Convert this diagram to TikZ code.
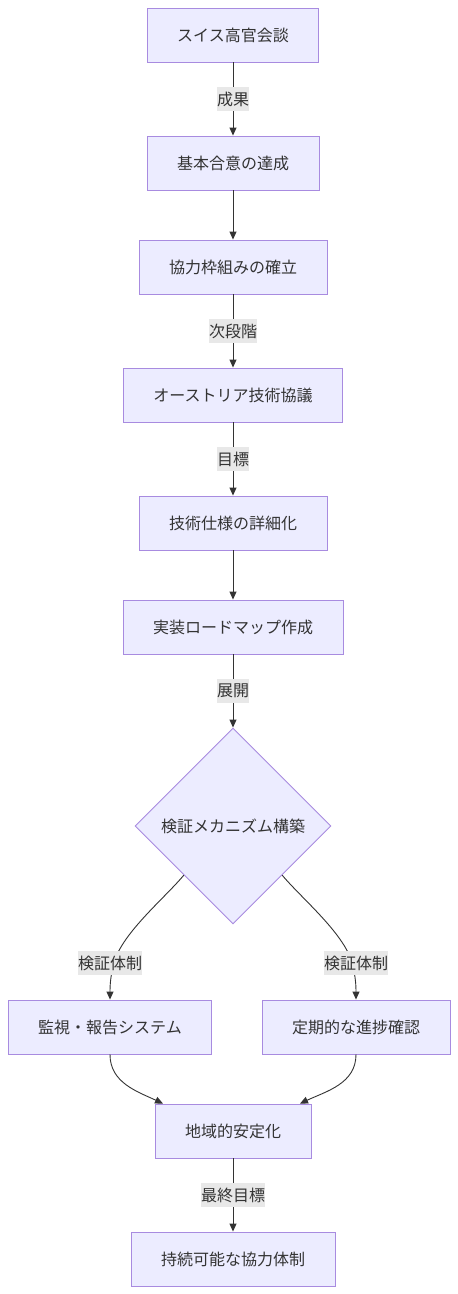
\documentclass[tikz,border=0pt]{standalone}
\usepackage{fontspec}
\setmainfont{Noto Sans CJK JP}
\usetikzlibrary{shapes.geometric,arrows.meta,calc}
\definecolor{boxfill}{HTML}{ECECFF}
\definecolor{boxline}{HTML}{A88BE0}
\definecolor{edgecol}{HTML}{333333}
\definecolor{lblbg}{HTML}{E8E8E8}
\begin{document}
\begin{tikzpicture}[x=1pt,y=-1pt,
  font=\fontsize{16pt}{19pt}\selectfont,
  stepbox/.style={draw=boxline,fill=boxfill,line width=0.9pt,text=edgecol,
    inner xsep=30pt,inner ysep=0pt,minimum height=54pt},
  decision/.style={diamond,draw=boxline,fill=boxfill,line width=0.9pt,text=edgecol,
    minimum width=196pt,minimum height=196pt,inner sep=0pt},
  lbl/.style={fill=lblbg,text=edgecol,inner xsep=0pt,inner ysep=0pt,minimum height=24pt},
  edge/.style={draw=edgecol,line width=0.9pt,-{Triangle[length=8pt,width=7pt]}}]
\useasboundingbox (0,0) rectangle (458,1294);
\node[stepbox] (a) at (233,35) {スイス高官会談};
\node[stepbox] (b) at (233,163) {基本合意の達成};
\node[stepbox] (c) at (233,267) {協力枠組みの確立};
\node[stepbox] (d) at (233,395) {オーストリア技術協議};
\node[stepbox] (e) at (233,523) {技術仕様の詳細化};
\node[stepbox] (f) at (233,627) {実装ロードマップ作成};
\node[decision] (g) at (233,826) {検証メカニズム構築};
\node[stepbox] (h) at (110,1027) {監視・報告システム};
\node[stepbox] (i) at (356,1027) {定期的な進捗確認};
\node[stepbox] (j) at (233,1131) {地域的安定化};
\node[stepbox] (k) at (233,1259) {持続可能な協力体制};
\coordinate (l1) at (113,966);
\coordinate (l2) at (353,966);
\draw[edge] (g.south west) to[out=-130,in=78,looseness=0.7] (l1) to[out=-102,in=90] (h.north);
\draw[edge] (g.south east) to[out=-50,in=102,looseness=0.7] (l2) to[out=-78,in=90] (i.north);
\node[lbl] (lb1) at (110,963) {検証体制};
\node[lbl] (lb2) at (356,963) {検証体制};
\draw[edge] (a) -- node[lbl] {成果} (b);
\draw[edge] (b) -- (c);
\draw[edge] (c) -- node[lbl] {次段階} (d);
\draw[edge] (d) -- node[lbl] {目標} (e);
\draw[edge] (e) -- (f);
\draw[edge] (f) -- node[lbl] {展開} (g);
\draw[edge] (h.south) to[out=-90,in=155] ($(j.north)+(-70,0)$);
\draw[edge] (i.south) to[out=-90,in=25] ($(j.north)+(67,0)$);
\draw[edge] (j) -- node[lbl] {最終目標} (k);
\end{tikzpicture}
\end{document}
